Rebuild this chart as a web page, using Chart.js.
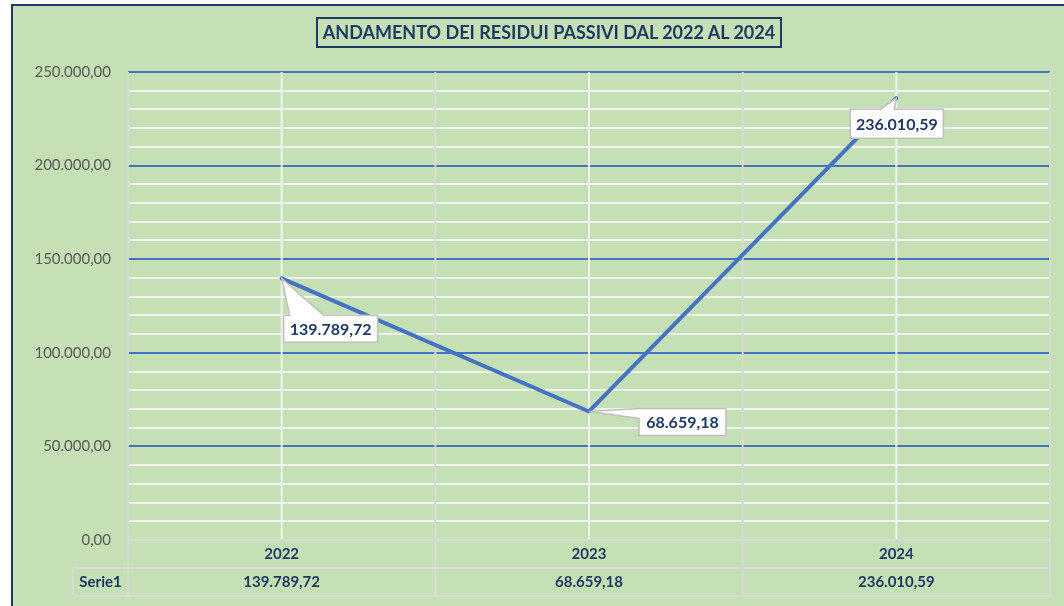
<!DOCTYPE html>
<html>
<head>
<meta charset="utf-8">
<script src="https://cdn.jsdelivr.net/npm/chart.js@4"></script>
<style>
    html, body { margin: 0; padding: 0; background: #ffffff; }
    #frame {
        position: absolute; left: 11px; top: 4px; width: 1053px; height: 602px;
        background: #C5E0B4; border-left: 2px solid #1F3864; border-top: 2px solid #1F3864;
        box-sizing: border-box;
    }
    #chart { position: absolute; left: 0; top: 0; }
    #title {
        position: absolute; left: 316px; top: 17px; width: 466px; height: 31px;
        border: 2px solid #1F3864; box-sizing: border-box;
        font: bold 18px Lato, "Noto Sans", sans-serif; color: #1F3864;
        text-align: center; line-height: 27px; white-space: nowrap;
    }
</style>
</head>
<body>
<div id="frame"></div>
<canvas id="chart" width="1064" height="606"></canvas>
<div id="title">ANDAMENTO DEI RESIDUI PASSIVI DAL 2022 AL 2024</div>
<script>
const years = ['2022', '2023', '2024'];
const residui = [139789.72, 68659.18, 236010.59];
const seriesName = 'Serie1';
const yTicks = [0, 50000, 100000, 150000, 200000, 250000];

const NAVY = '#1F3864';
const GREY = '#D9D9D9';
const FONT = 'Lato, "Noto Sans", sans-serif';

function formatIt(v) {
    const parts = v.toFixed(2).split('.');
    const intPart = parts[0].replace(/\B(?=(\d{3})+(?!\d))/g, '.');
    return intPart + ',' + parts[1];
}

// callout box placement relative to each point (box offsets and pointer side)
const callouts = [
    { dx0: 2, dx1: 96, dy0: 37, dy1: 64, side: 'top', b0: 6, b1: 40 },
    { dx0: 50, dx1: 137, dy0: -3, dy1: 24, side: 'left', b0: 0, b1: 10 },
    { dx0: -46, dx1: 47, dy0: 11, dy1: 40, side: 'top', b0: 30, b1: 44 }
];

const tablePlugin = {
    id: 'tablePlugin',
    beforeDatasetsDraw(chart) {
        const ctx = chart.ctx;
        const area = chart.chartArea;
        const x = chart.scales.x;
        const rowH = 28;
        const tableLeft = 73;
        ctx.save();
        // white lines at category centres
        ctx.strokeStyle = '#F2F2F2';
        ctx.lineWidth = 2;
        years.forEach((y, i) => {
            const px = x.getPixelForValue(i);
            ctx.beginPath();
            ctx.moveTo(px, area.top);
            ctx.lineTo(px, area.bottom);
            ctx.stroke();
        });
        // category boundaries and table grid
        ctx.strokeStyle = GREY;
        ctx.lineWidth = 2;
        const step = (area.right - area.left) / years.length;
        for (let i = 1; i <= years.length; i++) {
            const bx = area.left + step * i;
            ctx.beginPath();
            ctx.moveTo(bx, area.top);
            ctx.lineTo(bx, area.bottom + rowH * 2);
            ctx.stroke();
        }
        ctx.beginPath();
        ctx.moveTo(area.left, area.top);
        ctx.lineTo(area.left, area.bottom + rowH * 2);
        ctx.moveTo(area.left, area.bottom);
        ctx.lineTo(area.right, area.bottom);
        ctx.moveTo(tableLeft, area.bottom + rowH);
        ctx.lineTo(area.right, area.bottom + rowH);
        ctx.moveTo(tableLeft, area.bottom + rowH * 2);
        ctx.lineTo(area.right, area.bottom + rowH * 2);
        ctx.moveTo(tableLeft, area.bottom + rowH);
        ctx.lineTo(tableLeft, area.bottom + rowH * 2);
        ctx.stroke();
        // series row
        ctx.fillStyle = NAVY;
        ctx.font = 'bold 15px ' + FONT;
        ctx.textAlign = 'center';
        ctx.textBaseline = 'middle';
        const rowY = area.bottom + rowH * 1.5;
        ctx.fillText(seriesName, (tableLeft + area.left) / 2, rowY);
        residui.forEach((v, i) => {
            ctx.fillText(formatIt(v), x.getPixelForValue(i), rowY);
        });
        ctx.restore();
    },
    afterDatasetsDraw(chart) {
        const ctx = chart.ctx;
        const meta = chart.getDatasetMeta(0);
        ctx.save();
        ctx.font = 'bold 16px ' + FONT;
        ctx.textAlign = 'center';
        ctx.textBaseline = 'middle';
        meta.data.forEach((pt, i) => {
            const c = callouts[i];
            const x0 = pt.x + c.dx0, x1 = pt.x + c.dx1;
            const y0 = pt.y + c.dy0, y1 = pt.y + c.dy1;
            ctx.beginPath();
            if (c.side === 'top') {
                ctx.moveTo(x0, y0);
                ctx.lineTo(x0 + c.b0, y0);
                ctx.lineTo(pt.x, pt.y);
                ctx.lineTo(x0 + c.b1, y0);
                ctx.lineTo(x1, y0);
                ctx.lineTo(x1, y1);
                ctx.lineTo(x0, y1);
            } else {
                ctx.moveTo(x0, y0);
                ctx.lineTo(x1, y0);
                ctx.lineTo(x1, y1);
                ctx.lineTo(x0, y1);
                ctx.lineTo(x0, y0 + c.b1);
                ctx.lineTo(pt.x, pt.y);
                ctx.lineTo(x0, y0 + c.b0);
            }
            ctx.closePath();
            ctx.fillStyle = '#ffffff';
            ctx.fill();
            ctx.strokeStyle = '#BFBFBF';
            ctx.lineWidth = 1.5;
            ctx.stroke();
            ctx.fillStyle = NAVY;
            ctx.fillText(formatIt(residui[i]), (x0 + x1) / 2, (y0 + y1) / 2 + 1);
        });
        ctx.restore();
    }
};

new Chart(document.getElementById('chart'), {
    type: 'line',
    data: {
        labels: years,
        datasets: [{
            label: seriesName,
            data: residui,
            borderColor: '#4472C4',
            borderWidth: 4,
            borderCapStyle: 'round',
            borderJoinStyle: 'round',
            pointRadius: 0,
            tension: 0
        }]
    },
    options: {
        responsive: false,
        animation: false,
        devicePixelRatio: 1,
        layout: { padding: { left: 0, top: 72, right: 14, bottom: 38 } },
        plugins: {
            legend: { display: false },
            tooltip: { enabled: false }
        },
        scales: {
            x: {
                type: 'category',
                offset: true,
                grid: { display: false, drawTicks: false },
                border: { display: false },
                ticks: {
                    color: NAVY,
                    padding: 5,
                    font: { family: FONT, size: 15, weight: 'bold' }
                },
                afterFit: (s) => { s.height = 28; }
            },
            y: {
                min: 0,
                max: 250000,
                border: { display: false },
                grid: {
                    drawTicks: false,
                    color: (c) => {
                        const v = c.tick.value;
                        if (v === 0) return 'rgba(0,0,0,0)';
                        return yTicks.includes(v) ? '#4472C4' : '#F2F2F2';
                    },
                    lineWidth: 2
                },
                ticks: {
                    stepSize: 10000,
                    autoSkip: false,
                    padding: 17,
                    color: '#595959',
                    font: { family: FONT, size: 15 },
                    callback: (v) => yTicks.includes(v) ? formatIt(v) : ''
                },
                afterFit: (s) => { s.width = 128; }
            }
        }
    },
    plugins: [tablePlugin]
});
</script>
</body>
</html>
